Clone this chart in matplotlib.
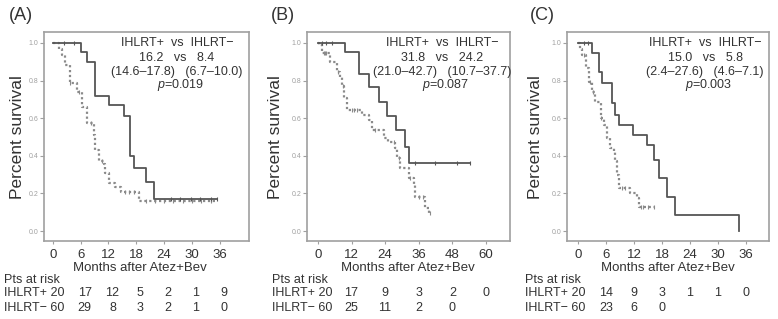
import numpy as np
import matplotlib
matplotlib.use("Agg")
import matplotlib.pyplot as plt
import matplotlib.transforms as mtransforms

plt.rcParams["font.family"] = ["Liberation Sans", "DejaVu Sans"]
plt.rcParams["mathtext.fontset"] = "custom"
plt.rcParams["mathtext.it"] = "Liberation Sans:italic"
plt.rcParams["mathtext.rm"] = "Liberation Sans"

# ---- data (months, survival after each step) ----
a_pos_t = [0, 6.0, 7.4, 9.2, 12.1, 15.3, 16.6, 17.5, 20.0, 21.8, 35.3]
a_pos_s = [1.0, 0.95, 0.90, 0.72, 0.67, 0.61, 0.40, 0.335, 0.26, 0.17, 0.17]
a_pos_cens = [2.4, 4.5, 25.4, 27.5, 29.7, 31.8, 34.0, 35.3]
a_neg_t = [0, 1.3, 2.0, 2.7, 3.8, 5.2, 6.3, 7.4, 8.8, 9.2, 9.9, 11.0, 11.3, 12.1, 13.5, 14.6, 18.5, 35.1]
a_neg_s = [1.0, 0.97, 0.936, 0.883, 0.785, 0.74, 0.66, 0.573, 0.51, 0.43, 0.37, 0.355, 0.307, 0.254, 0.236, 0.21, 0.16, 0.16]
a_neg_cens = [3.8, 5.6, 8.2, 10.5, 15.5, 16.5, 17.5, 20.0, 22.0, 24.0, 26.0, 28.0, 30.0, 32.0, 34.0]

b_pos_t = [0, 9.8, 14.5, 18.1, 21.7, 24.6, 28.0, 31.2, 32.4, 54.4]
b_pos_s = [1.0, 0.95, 0.833, 0.768, 0.688, 0.613, 0.537, 0.448, 0.36, 0.36]
b_pos_cens = [1.5, 3.0, 5.0, 34.6, 41.8, 49.5, 54.4]
b_neg_t = [0, 0.4, 1.4, 4.4, 6.8, 8.0, 8.6, 9.2, 10.4, 15.7, 18.1, 19.3, 23.5, 25.2, 27.6, 28.2, 29.4,
           32.4, 34.2, 34.8, 38.3, 39.5, 40.0]
b_neg_s = [1.0, 0.99, 0.945, 0.90, 0.847, 0.82, 0.77, 0.706, 0.644, 0.617, 0.59, 0.537, 0.493, 0.475, 0.44,
           0.387, 0.333, 0.28, 0.245, 0.18, 0.12, 0.094, 0.094]
b_neg_cens = [2.0, 2.5, 3.0, 7.0, 9.0, 12.0, 13.0, 14.0, 20.5, 27.0, 29.0, 33.0, 36.0, 37.5, 40.0]

c_pos_t = [0, 3.0, 4.4, 5.1, 7.3, 8.0, 8.7, 11.8, 14.8, 16.2, 17.3, 19.1, 20.8, 34.6]
c_pos_s = [1.0, 0.945, 0.847, 0.785, 0.68, 0.617, 0.564, 0.51, 0.457, 0.378, 0.28, 0.18, 0.085, 0.0]
c_pos_cens = [1.2, 2.2]
c_neg_t = [0, 0.3, 0.9, 1.6, 2.3, 3.0, 3.7, 4.8, 5.5, 6.2, 6.9, 7.6, 8.0, 8.4, 8.7, 11.2, 12.6, 13.0, 16.2]
c_neg_s = [1.0, 0.97, 0.936, 0.865, 0.794, 0.74, 0.688, 0.60, 0.564, 0.493, 0.44, 0.42, 0.37, 0.30, 0.227,
           0.2, 0.174, 0.13, 0.13]
c_neg_cens = [1.2, 2.6, 3.2, 5.0, 9.5, 10.0, 13.5, 14.0, 15.0, 16.2]

# ---- annotation text and numbers at risk ----
labels = ["(A)", "(B)", "(C)"]
medians = [("16.2", "8.4"), ("31.8", "24.2"), ("15.0", "5.8")]
cis = [("(14.6\u201317.8)", "(6.7\u201310.0)"), ("(21.0\u201342.7)", "(10.7\u201337.7)"),
       ("(2.4\u201327.6)", "(4.6\u20137.1)")]
pvals = ["0.019", "0.087", "0.003"]

a_ticks = [0, 6, 12, 18, 24, 30, 36]
b_ticks = [0, 12, 24, 36, 48, 60]
c_ticks = [0, 6, 12, 18, 24, 30, 36]
a_risk_pos = [20, 17, 12, 5, 2, 1, 9]
a_risk_neg = [60, 29, 8, 3, 2, 1, 0]
b_risk_pos = [20, 17, 9, 3, 2, 0]
b_risk_neg = [60, 25, 11, 2, 0]
c_risk_pos = [20, 14, 9, 3, 1, 1, 0]
c_risk_neg = [60, 23, 6, 0]

W, H = 778, 319
fig = plt.figure(figsize=(W / 100, H / 100), dpi=100)

# layout in pixels: axes box (left, top, right, bottom), xlim
panels = [
    dict(box=(44, 32, 249, 241), xlim=(-1.9, 42.3), ticks=a_ticks,
         pos=(a_pos_t, a_pos_s, a_pos_cens), neg=(a_neg_t, a_neg_s, a_neg_cens),
         risk=(a_risk_pos, a_risk_neg), lab_x=21, ylab_x=18, xlab_x=140, row_x=4, txt_x=177, off=4),
    dict(box=(307, 32, 510, 241), xlim=(-3.9, 68.6), ticks=b_ticks,
         pos=(b_pos_t, b_pos_s, b_pos_cens), neg=(b_neg_t, b_neg_s, b_neg_cens),
         risk=(b_risk_pos, b_risk_neg), lab_x=283, ylab_x=275, xlab_x=408, row_x=272, txt_x=442, off=0),
    dict(box=(567, 32, 769, 241), xlim=(-2.4, 41.0), ticks=c_ticks,
         pos=(c_pos_t, c_pos_s, c_pos_cens), neg=(c_neg_t, c_neg_s, c_neg_cens),
         risk=(c_risk_pos, c_risk_neg), lab_x=542, ylab_x=535, xlab_x=668, row_x=525, txt_x=705, off=0),
]

txt_col = "#333333"
frame_col = "#a0a0a0"


def step_value(t, s, x):
    i = np.searchsorted(t, x, side="right") - 1
    return np.asarray(s)[np.clip(i, 0, len(s) - 1)]


def draw_curve(ax, t, s, cens, color, ls, lw):
    ax.step(t, s, where="post", color=color, linestyle=ls, linewidth=lw)
    cens = np.asarray(cens)
    ax.plot(cens, step_value(np.asarray(t), s, cens), linestyle="none", marker="|",
            markersize=3.5, markeredgewidth=0.8, color=color)


for i, p in enumerate(panels):
    l, t, r, b = p["box"]
    ax = fig.add_axes([l / W, 1 - b / H, (r - l) / W, (b - t) / H])
    ax.set_xlim(*p["xlim"])
    ax.set_ylim(-0.053, 1.058)

    draw_curve(ax, *p["neg"], color="#8a8a8a", ls=(0, (1, 1.2)), lw=1.6)
    draw_curve(ax, *p["pos"], color="#555555", ls="-", lw=1.3)

    for sp in ax.spines.values():
        sp.set_color(frame_col)
        sp.set_linewidth(1.2)
    ax.set_yticks([0.0, 0.2, 0.4, 0.6, 0.8, 1.0])
    ax.set_yticklabels(["0.0", "0.2", "0.4", "0.6", "0.8", "1.0"])
    ax.tick_params(axis="y", labelsize=5, colors="#a0a0a0", length=3, width=0.8, pad=1)
    ax.set_xticks(p["ticks"])
    ax.set_xticklabels([str(v) for v in p["ticks"]])
    ax.tick_params(axis="x", labelsize=9.5, labelcolor=txt_col, color=frame_col,
                   length=2.5, width=0.8, pad=3)

    # median survival annotation
    cx = (p["txt_x"] - l) / (r - l)
    def ay(y):
        return (b - y) / (b - t)
    ax.text(cx, ay(43), "IHLRT+  vs  IHLRT\u2212", transform=ax.transAxes, ha="center", va="center",
            fontsize=9, color=txt_col)
    ax.text(cx, ay(58), "%s   vs   %s" % medians[i], transform=ax.transAxes, ha="center", va="center",
            fontsize=9, color=txt_col)
    ax.text(cx, ay(72), "%s   %s" % cis[i], transform=ax.transAxes, ha="center", va="center",
            fontsize=9, color=txt_col)
    ax.text(cx + 0.02, ay(85), "$p$=" + pvals[i], transform=ax.transAxes, ha="center", va="center",
            fontsize=9, color=txt_col)

    # labels around the axes
    fig.text(p["lab_x"] / W, 1 - 15 / H, labels[i], ha="center", va="center", fontsize=13, color=txt_col)
    fig.text(p["ylab_x"] / W, 1 - 137 / H, "Percent survival", rotation=90, ha="center", va="center",
             fontsize=12.5, color=txt_col)
    fig.text(p["xlab_x"] / W, 1 - 268 / H, "Months after Atez+Bev", ha="center", va="center",
             fontsize=9.5, color=txt_col)

    # numbers at risk
    fig.text(p["row_x"] / W, 1 - 280 / H, "Pts at risk", ha="left", va="center", fontsize=9, color=txt_col)
    trans = mtransforms.blended_transform_factory(ax.transData, fig.transFigure)
    trans = mtransforms.offset_copy(trans, fig=fig, x=p["off"], y=0, units="dots")
    for row, (name, vals) in enumerate(zip(["IHLRT+", "IHLRT\u2212"], p["risk"])):
        yy = 1 - (293 + 15 * row) / H
        fig.text(p["row_x"] / W, yy, "%s %d" % (name, vals[0]), ha="left", va="center",
                 fontsize=9, color=txt_col)
        for tk, v in zip(p["ticks"][1:], vals[1:]):
            fig.text(tk, yy, str(v), transform=trans, ha="center", va="center", fontsize=9, color=txt_col)

fig.savefig("out.png", dpi=100)
